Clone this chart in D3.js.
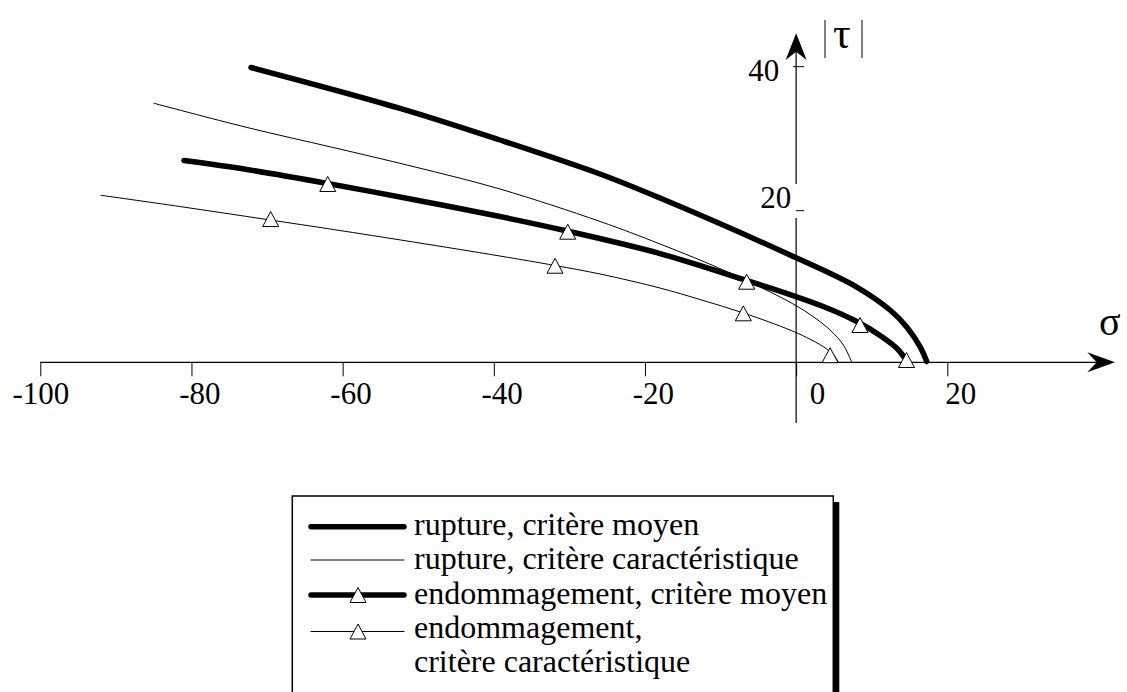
<!DOCTYPE html>
<html><head><meta charset="utf-8">
<script src="https://cdn.jsdelivr.net/npm/d3@7"></script>
<style>
body{margin:0;background:#fff}
svg{display:block;background:#fff}
text{font-family:"Liberation Serif","Times New Roman",Times,serif;fill:#000}
</style>
</head><body><svg id="c" width="1127" height="692"></svg>
<script>
// ---- data (σ, |τ|) ----
const xTicks = [-100, -80, -60, -40, -20, 0, 20];
const yTicks = [20, 40];

const ruptureMoyen = [[-72.12,39.89],[-52.41,34.22],[-39.18,29.82],[-25.95,25.10],[-18.01,21.76],[-0.81,14.16],[8.02,9.93],[12.42,6.90],[14.63,4.66],[16.39,2.06],[17.28,0.1]];
const ruptureCaract = [[-84.96,34.92],[-72.65,31.56],[-61.27,28.78],[-50.69,26.14],[-39.18,23.01],[-25.95,18.58],[-18.01,15.61],[-8.75,11.78],[0.52,7.16],[4.49,4.26],[6.25,2.28],[7.36,0]];
const endomMoyen = [[-80.99,26.97],[-72.65,25.72],[-61.27,23.64],[-50.69,21.56],[-39.18,19.23],[-30.31,17.32],[-18.01,14.35],[-6.54,10.79],[-0.81,8.94],[3.60,7.36],[8.02,5.38],[11.10,3.54],[13.31,1.85],[14.71,0.08]];
const endomMoyenMarks = [[-61.97,23.71],[-30.22,17.23],[-6.54,10.63],[8.45,4.92],[14.6,0.3]];
const endomCaract = [[-91.97,22.14],[-81.52,20.58],[-70.04,18.84],[-61.23,17.52],[-50.65,15.87],[-39.18,14.02],[-31.9,12.77],[-25.95,11.65],[-18.01,9.80],[-12.71,8.28],[-6.76,6.44],[-0.81,4.26],[1.40,3.27],[3.60,2.06],[4.92,1.03],[5.58,0]];
const endomCaractMarks = [[-69.52,18.9],[-31.9,12.74],[-6.99,6.46],[4.49,0.94]];

const legendLabels = [
  ["rupture, critère moyen"],
  ["rupture, critère caractéristique"],
  ["endommagement, critère moyen"],
  ["endommagement,", "critère caractéristique"]
];

// ---- layout ----
const svg = d3.select("#c");
const x = d3.scaleLinear().domain([-100, 20]).range([40.3, 947.3]);
const y = d3.scaleLinear().domain([0, 20, 40]).range([362.3, 210.7, 66.7]);
const x0 = x(0), yAxis0 = y(0);
const THICK = 5.5;
const FONT = '"Liberation Serif","Times New Roman",Times,serif';

// x axis line + arrow
svg.append("line").attr("x1", x(-100)).attr("x2", 1100).attr("y1", yAxis0).attr("y2", yAxis0)
  .attr("stroke", "#000").attr("stroke-width", 1.2);
svg.append("path").attr("d", `M1115,${yAxis0} L1087.3,${yAxis0-10} L1096.7,${yAxis0} L1087.3,${yAxis0+10} Z`).attr("fill", "#000");

const gx = svg.append("g").attr("transform", `translate(0,${yAxis0})`)
  .call(d3.axisBottom(x).tickValues(xTicks).tickSize(14).tickSizeOuter(0).tickFormat(d => String(d)));
gx.select(".domain").remove();
gx.attr("font-family", FONT);
gx.selectAll(".tick line").attr("stroke", "#000").attr("stroke-width", 1);
gx.selectAll(".tick text").attr("text-anchor", "end").attr("x", 28.5).attr("y", 42).attr("dy", 0)
  .style("font-size", "31px").style("font-family", FONT).attr("fill", "#000");

// y axis line + arrow
svg.append("line").attr("x1", x0).attr("x2", x0).attr("y1", 45).attr("y2", 423)
  .attr("stroke", "#000").attr("stroke-width", 1.2);
svg.append("path").attr("d", `M${x0},33.3 L${x0+10.5},60 L${x0},51.7 L${x0-10.5},60 Z`).attr("fill", "#000");
svg.append("rect").attr("x", x0-4).attr("y", 184).attr("width", 8).attr("height", 34).attr("fill", "#fff");

const yLabelPos = {20: {dx: -5, dy: -2.7}, 40: {dx: -17, dy: 14}};
yTicks.forEach(v => {
  svg.append("line").attr("x1", v === 40 ? x0-3 : x0).attr("x2", x0+8).attr("y1", y(v)).attr("y2", y(v))
    .attr("stroke", "#000").attr("stroke-width", 1);
  svg.append("text").attr("x", x0 + yLabelPos[v].dx).attr("y", y(v) + yLabelPos[v].dy)
    .attr("text-anchor", "end").style("font-size", "31px").text(v);
});

// axis titles
svg.append("text").attr("x", 1099).attr("y", 335).style("font-size", "40px").text("σ");
svg.append("text").attr("x", 833).attr("y", 48).style("font-size", "44px").text("τ");
[825, 862].forEach(bx => svg.append("line").attr("x1", bx).attr("x2", bx).attr("y1", 20).attr("y2", 58)
  .attr("stroke", "#000").attr("stroke-width", 1));

// curves
const line = d3.line().x(d => x(d[0])).y(d => y(d[1])).curve(d3.curveCatmullRom.alpha(0.5));
const series = [
  {data: ruptureCaract, w: 1},
  {data: endomCaract, w: 1},
  {data: ruptureMoyen, w: THICK},
  {data: endomMoyen, w: THICK}
];
series.forEach(s => svg.append("path").attr("d", line(s.data)).attr("fill", "none")
  .attr("stroke", "#000").attr("stroke-width", s.w).attr("stroke-linecap", "round").attr("stroke-linejoin", "round"));

const tri = "M0,-7.5 L8,7.5 L-8,7.5 Z";
function marks(arr) {
  svg.append("g").selectAll("path").data(arr).join("path")
    .attr("d", tri).attr("transform", d => `translate(${x(d[0])},${y(d[1])})`)
    .attr("fill", "#fff").attr("stroke", "#000").attr("stroke-width", 1);
}
marks(endomCaractMarks);
marks(endomMoyenMarks);

// legend
const lg = svg.append("g");
lg.append("rect").attr("x", 298.3).attr("y", 502).attr("width", 541).attr("height", 220).attr("fill", "#000");
lg.append("rect").attr("x", 292.3).attr("y", 496).attr("width", 541).attr("height", 220)
  .attr("fill", "#fff").attr("stroke", "#000").attr("stroke-width", 1.5);
const baselines = [535, 569, 603.5, 638];
const lineOffsets = [8.3, 9, 8.5, 6.5];
const legStyles = [
  {w: THICK, m: false}, {w: 1, m: false}, {w: THICK, m: true}, {w: 1, m: true}
];
legendLabels.forEach((lines, i) => {
  const ly = baselines[i] - lineOffsets[i];
  lg.append("line").attr("x1", 311).attr("x2", 404).attr("y1", ly).attr("y2", ly)
    .attr("stroke", "#000").attr("stroke-width", legStyles[i].w).attr("stroke-linecap", "round");
  if (legStyles[i].m) lg.append("path").attr("d", tri).attr("transform", `translate(358,${ly})`)
    .attr("fill", "#fff").attr("stroke", "#000").attr("stroke-width", 1);
  lines.forEach((t, j) => lg.append("text").attr("x", 414).attr("y", baselines[i] + j*34)
    .style("font-size", "32px").text(t));
});
</script>
</body></html>
